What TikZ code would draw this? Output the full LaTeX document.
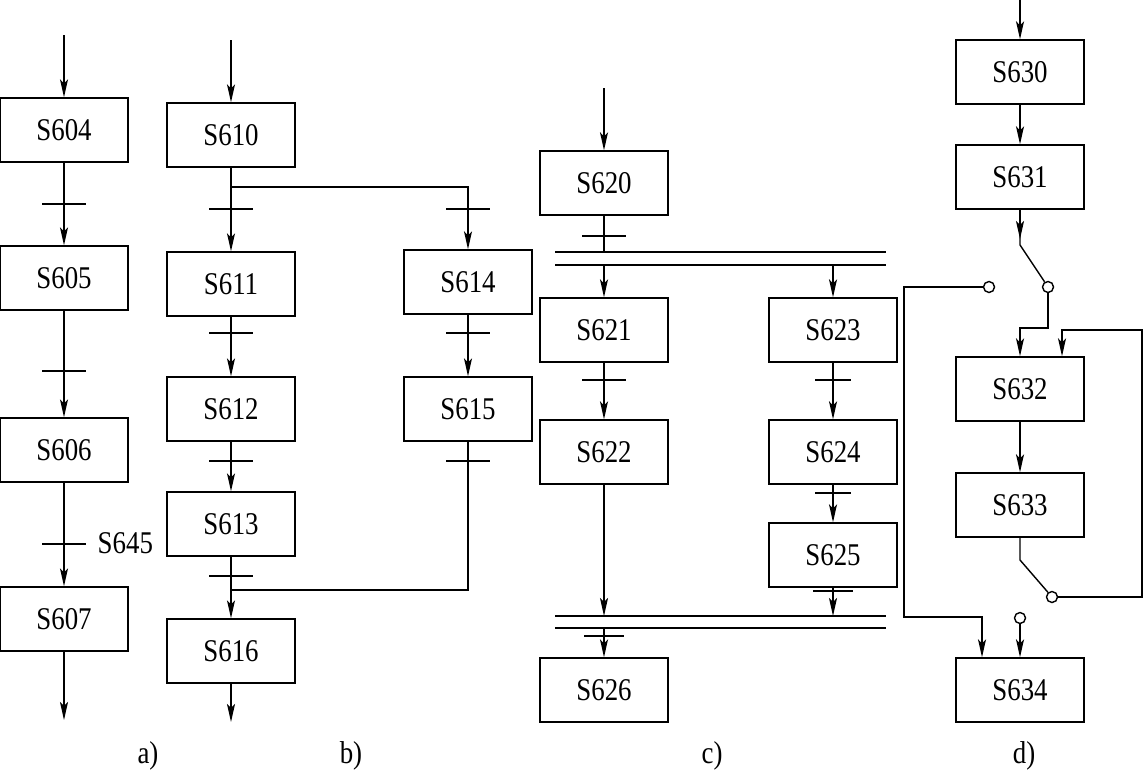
\documentclass[tikz,border=0pt]{standalone}
\usepackage{fontspec}
\setmainfont{Liberation Serif}[FakeStretch=0.85]
\usetikzlibrary{arrows.meta}

\begin{document}
\begin{tikzpicture}[
        x=0.02cm, y=-0.02cm,
        line width=0.8pt,
        every node/.style = {font=\fontsize{18}{20}\selectfont},
        stepbox/.style = {draw, rectangle, minimum width=2.56cm, minimum height=1.28cm, inner sep=0pt},
        arrow/.style = {-{Stealth[length=0.36cm, width=0.16cm, inset=0.08cm]}},
        tick/.style = {line width=0.8pt},
        sw/.style = {draw, circle, fill=white, minimum size=0.22cm, inner sep=0pt, line width=0.8pt}
    ]
    \useasboundingbox (0,0) rectangle (1145,771);

    % Panel a: single sequence
    \node[stepbox] (S604) at (64,130) {S604};
    \node[stepbox] (S605) at (64,278) {S605};
    \node[stepbox] (S606) at (64,450) {S606};
    \node[stepbox] (S607) at (64,619) {S607};
    \coordinate (ain) at (64,35);
    \coordinate (aout) at (64,720);

    \draw[arrow] (ain) -- (S604);
    \draw[arrow] (S604) -- (S605);
    \draw[arrow] (S605) -- (S606);
    \draw[arrow] (S606) -- (S607);
    \draw[arrow] (S607) -- (aout);
    \draw[tick] (64,204) +(-22,0) -- +(22,0);
    \draw[tick] (64,371) +(-22,0) -- +(22,0);
    \draw[tick] (64,544) +(-22,0) -- +(22,0);
    \node[anchor=west, inner sep=0pt] (S645) at (97,543) {S645};
    \node (labA) at (148,756) {a)};

    % Panel b: selective branches
    \node[stepbox] (S610) at (231,135) {S610};
    \node[stepbox] (S611) at (231,284) {S611};
    \node[stepbox] (S612) at (231,409) {S612};
    \node[stepbox] (S613) at (231,524) {S613};
    \node[stepbox] (S616) at (231,651) {S616};
    \node[stepbox] (S614) at (468,282) {S614};
    \node[stepbox] (S615) at (468,409) {S615};
    \coordinate (bin) at (231,40);
    \coordinate (bout) at (231,722);
    \coordinate (bsplit) at (231,187);
    \coordinate (bjoin) at (231,590);

    \draw[arrow] (bin) -- (S610);
    \draw[arrow] (S610) -- (S611);
    \draw[arrow] (bsplit) -| (S614);
    \draw[arrow] (S611) -- (S612);
    \draw[arrow] (S612) -- (S613);
    \draw[arrow] (S613) -- (S616);
    \draw[arrow] (S614) -- (S615);
    \draw (S615) |- (bjoin);
    \draw[arrow] (S616) -- (bout);
    \draw[tick] (231,209) +(-22,0) -- +(22,0);
    \draw[tick] (468,209) +(-22,0) -- +(22,0);
    \draw[tick] (231,333) +(-22,0) -- +(22,0);
    \draw[tick] (468,333) +(-22,0) -- +(22,0);
    \draw[tick] (231,461) +(-22,0) -- +(22,0);
    \draw[tick] (468,461) +(-22,0) -- +(22,0);
    \draw[tick] (231,576) +(-22,0) -- +(22,0);
    \node (labB) at (351,756) {b)};

    % Panel c: parallel branches
    \node[stepbox] (S620) at (604,183) {S620};
    \node[stepbox] (S621) at (604,330) {S621};
    \node[stepbox] (S622) at (604,452) {S622};
    \node[stepbox] (S626) at (604,690) {S626};
    \node[stepbox] (S623) at (833,330) {S623};
    \node[stepbox] (S624) at (833,452) {S624};
    \node[stepbox] (S625) at (833,555) {S625};
    \coordinate (cin) at (604,88);
    \coordinate (p1) at (555,252);
    \coordinate (p2) at (555,265);
    \coordinate (q1) at (555,616);
    \coordinate (q2) at (555,628);

    \draw (p1) -- ++(331,0);
    \draw (p2) -- ++(331,0);
    \draw (q1) -- ++(331,0);
    \draw (q2) -- ++(331,0);
    \draw[arrow] (cin) -- (S620);
    \draw (S620) -- (S620 |- p1);
    \draw[arrow] (S621 |- p2) -- (S621);
    \draw[arrow] (S623 |- p2) -- (S623);
    \draw[arrow] (S621) -- (S622);
    \draw[arrow] (S623) -- (S624);
    \draw[arrow] (S624) -- (S625);
    \draw[arrow] (S622) -- (S622 |- q1);
    \draw[arrow] (S625) -- (S625 |- q1);
    \draw[arrow] (S626 |- q2) -- (S626);
    \draw[tick] (604,236) +(-22,0) -- +(22,0);
    \draw[tick] (604,380) +(-22,0) -- +(22,0);
    \draw[tick] (833,380) +(-18,0) -- +(18,0);
    \draw[tick] (833,493) +(-18,0) -- +(18,0);
    \draw[tick] (833,591) +(-20,0) -- +(20,0);
    \draw[tick] (604,636) +(-20,0) -- +(20,0);
    \node (labC) at (712,756) {c)};

    % Panel d: jumps and loops with switches
    \node[stepbox] (S630) at (1020,72) {S630};
    \node[stepbox] (S631) at (1020,177) {S631};
    \node[stepbox] (S632) at (1020,389) {S632};
    \node[stepbox] (S633) at (1020,505) {S633};
    \node[stepbox] (S634) at (1020,690) {S634};
    \node[sw] (c1) at (989,287) {};
    \node[sw] (c2) at (1048,287) {};
    \node[sw] (c3) at (1052,597) {};
    \node[sw] (c4) at (1020,618) {};
    \coordinate (din) at (1020,0);
    \coordinate (d1) at (1020,245);
    \coordinate (d2) at (1020,328);
    \coordinate (d3) at (1062,330);
    \coordinate (d4) at (1020,560);
    \coordinate (d5) at (982,617);

    \draw[arrow] (din) -- (S630);
    \draw[arrow] (S630) -- (S631);
    \draw (S631) -- (d1) -- (c2);
    \draw[arrow] (S631) -- ([yshift=0.12cm]d1);
    \draw[arrow] (c2) |- (d2) -- (d2 |- S632.north);
    \draw[arrow] (c3) -- (1142,597) |- (d3) -- (d3 |- S632.north);
    \draw[arrow] (S632) -- (S633);
    \draw (S633) -- (d4) -- (c3);
    \draw[arrow] (c1) -- (904,287) |- (d5) -- (d5 |- S634.north);
    \draw[arrow] (c4) -- (S634);
    \node (labD) at (1024,756) {d)};

\end{tikzpicture}
\end{document}
